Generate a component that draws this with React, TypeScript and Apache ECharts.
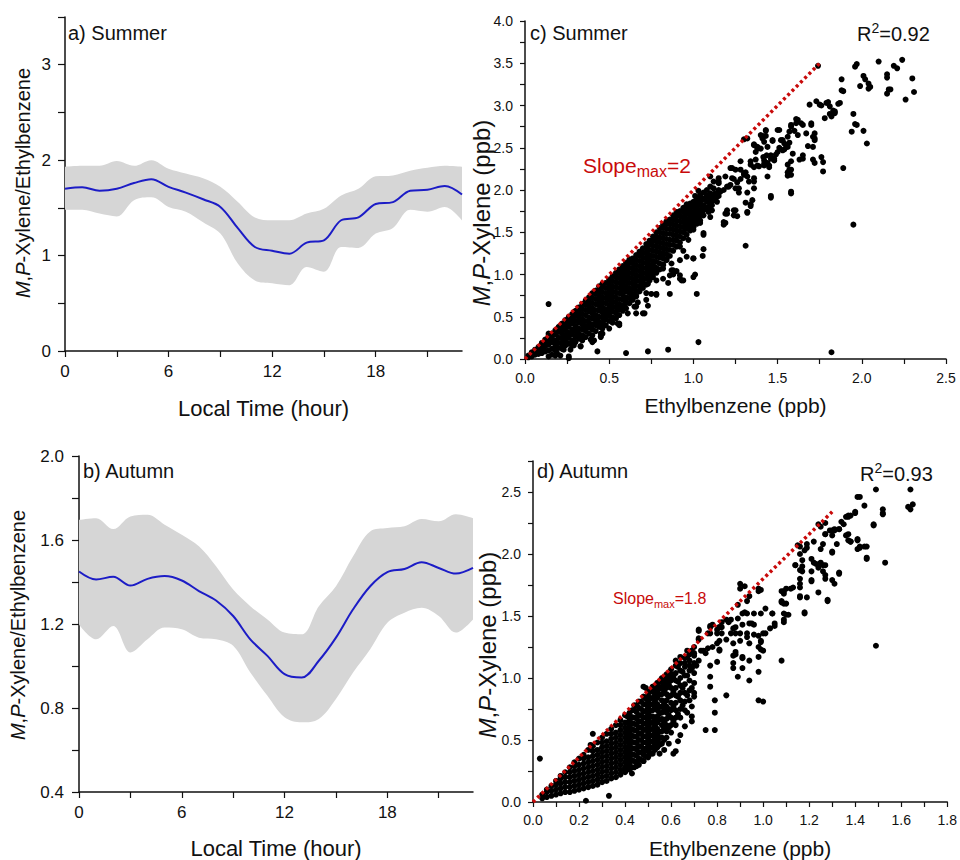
import React, { useEffect, useRef } from "react";
import * as echarts from "echarts";

const FONT = '"Liberation Sans", Arial, Helvetica, sans-serif';
const INK = "#111111";
const RED = "#c80a0a";
const BLUE = "#1c1cc6";
const BAND = "#d6d6d6";

// ---- Diurnal ratio profiles (hourly) ----
const hours = ["0", "1", "2", "3", "4", "5", "6", "7", "8", "9", "10", "11", "12", "13", "14", "15", "16", "17", "18", "19", "20", "21", "22", "23"];

const summerMean = [1.70, 1.715, 1.68, 1.70, 1.76, 1.80, 1.72, 1.66, 1.59, 1.51, 1.29, 1.09, 1.05, 1.02, 1.135, 1.16, 1.37, 1.40, 1.54, 1.56, 1.68, 1.69, 1.73, 1.64];
const summerUpper = [1.93, 1.94, 1.94, 1.99, 1.94, 2.00, 1.91, 1.86, 1.81, 1.72, 1.565, 1.40, 1.37, 1.37, 1.44, 1.49, 1.63, 1.70, 1.83, 1.84, 1.89, 1.92, 1.94, 1.93];
const summerLower = [1.48, 1.48, 1.44, 1.41, 1.58, 1.61, 1.51, 1.46, 1.35, 1.23, 0.92, 0.74, 0.71, 0.69, 0.88, 0.83, 1.09, 1.08, 1.23, 1.29, 1.48, 1.46, 1.51, 1.37];

const autumnMean = [1.45, 1.412, 1.425, 1.383, 1.415, 1.428, 1.407, 1.357, 1.312, 1.238, 1.127, 1.048, 0.961, 0.945, 1.025, 1.135, 1.27, 1.38, 1.447, 1.462, 1.494, 1.467, 1.44, 1.467];
const autumnUpper = [1.696, 1.704, 1.652, 1.712, 1.72, 1.673, 1.625, 1.57, 1.475, 1.364, 1.285, 1.222, 1.159, 1.151, 1.285, 1.38, 1.523, 1.641, 1.657, 1.665, 1.70, 1.689, 1.723, 1.704];
const autumnLower = [1.198, 1.127, 1.19, 1.064, 1.127, 1.183, 1.175, 1.135, 1.127, 1.096, 0.969, 0.858, 0.756, 0.732, 0.748, 0.843, 0.969, 1.08, 1.206, 1.254, 1.277, 1.238, 1.159, 1.222];

// ---- Reference slopes and fit statistics ----
const summerSlope = 2;
const summerSlopeEndX = 1.75;
const autumnSlope = 1.8;
const autumnSlopeEndX = 1.3;
const summerR2 = "0.92";
const autumnR2 = "0.93";

// ---- Summer scatter: Ethylbenzene (ppb) vs M,P-Xylene (ppb) ----
// Dense core: each entry is an ethylbenzene value with the xylene values observed there.
const summerCore: [number, number[]][] = [
  [0.02, [0.02, 0.04]],
  [0.04, [0.03, 0.06, 0.08]],
  [0.06, [0.05, 0.09, 0.11]],
  [0.08, [0.06, 0.10, 0.14]],
  [0.10, [0.07, 0.12, 0.17, 0.19]],
  [0.12, [0.09, 0.15, 0.20, 0.23]],
  [0.14, [0.10, 0.17, 0.23, 0.27, 0.30]],
  [0.16, [0.12, 0.20, 0.26, 0.30]],
  [0.18, [0.10, 0.16, 0.22, 0.29, 0.34]],
  [0.20, [0.13, 0.19, 0.25, 0.32, 0.38]],
  [0.22, [0.12, 0.18, 0.24, 0.30, 0.36, 0.42]],
  [0.24, [0.16, 0.22, 0.28, 0.34, 0.40, 0.46]],
  [0.26, [0.18, 0.25, 0.31, 0.38, 0.44, 0.50]],
  [0.28, [0.16, 0.22, 0.29, 0.35, 0.42, 0.48, 0.53]],
  [0.30, [0.20, 0.27, 0.33, 0.39, 0.45, 0.51, 0.57]],
  [0.32, [0.24, 0.30, 0.36, 0.43, 0.49, 0.55, 0.61]],
  [0.34, [0.22, 0.28, 0.35, 0.41, 0.47, 0.53, 0.59, 0.65]],
  [0.36, [0.26, 0.33, 0.39, 0.45, 0.52, 0.58, 0.64, 0.69]],
  [0.38, [0.30, 0.37, 0.43, 0.49, 0.56, 0.62, 0.68, 0.73]],
  [0.40, [0.28, 0.35, 0.41, 0.48, 0.54, 0.60, 0.66, 0.72, 0.78]],
  [0.42, [0.33, 0.40, 0.46, 0.52, 0.58, 0.65, 0.71, 0.77, 0.81]],
  [0.44, [0.38, 0.44, 0.50, 0.57, 0.63, 0.69, 0.75, 0.81, 0.86]],
  [0.46, [0.36, 0.42, 0.49, 0.55, 0.61, 0.67, 0.73, 0.79, 0.85, 0.89]],
  [0.48, [0.40, 0.47, 0.53, 0.59, 0.66, 0.72, 0.78, 0.84, 0.90]],
  [0.50, [0.45, 0.51, 0.57, 0.64, 0.70, 0.76, 0.82, 0.88, 0.94]],
  [0.52, [0.43, 0.49, 0.56, 0.62, 0.68, 0.74, 0.80, 0.86, 0.92, 0.98]],
  [0.54, [0.48, 0.54, 0.61, 0.67, 0.73, 0.79, 0.85, 0.91, 0.97, 1.02]],
  [0.56, [0.52, 0.59, 0.65, 0.71, 0.78, 0.84, 0.90, 0.96, 1.02, 1.06]],
  [0.58, [0.57, 0.63, 0.70, 0.76, 0.82, 0.88, 0.94, 1.00, 1.06, 1.10]],
  [0.60, [0.60, 0.67, 0.73, 0.80, 0.86, 0.92, 0.98, 1.04, 1.10, 1.14]],
  [0.62, [0.66, 0.72, 0.78, 0.84, 0.90, 0.96, 1.02, 1.08, 1.14, 1.18]],
  [0.64, [0.70, 0.77, 0.83, 0.89, 0.95, 1.01, 1.07, 1.13, 1.19]],
  [0.66, [0.75, 0.81, 0.87, 0.93, 0.99, 1.05, 1.11, 1.17, 1.23]],
  [0.68, [0.80, 0.86, 0.92, 0.98, 1.04, 1.10, 1.16, 1.22, 1.27]],
  [0.70, [0.84, 0.90, 0.96, 1.02, 1.08, 1.14, 1.20, 1.26, 1.31]],
  [0.72, [0.88, 0.95, 1.01, 1.07, 1.13, 1.19, 1.25, 1.31, 1.36]],
  [0.74, [0.93, 0.99, 1.05, 1.11, 1.17, 1.23, 1.29, 1.35, 1.40]],
  [0.76, [0.97, 1.04, 1.10, 1.16, 1.22, 1.28, 1.34, 1.40, 1.45]],
  [0.78, [1.02, 1.08, 1.15, 1.21, 1.27, 1.33, 1.39, 1.45, 1.50]],
  [0.80, [1.06, 1.13, 1.20, 1.26, 1.32, 1.38, 1.44, 1.50, 1.55]],
  [0.82, [1.12, 1.19, 1.25, 1.31, 1.37, 1.43, 1.49, 1.55, 1.59]],
  [0.84, [1.18, 1.24, 1.30, 1.36, 1.42, 1.48, 1.54, 1.60, 1.63]],
  [0.86, [1.22, 1.29, 1.35, 1.41, 1.48, 1.54, 1.60, 1.65]],
  [0.88, [1.28, 1.35, 1.41, 1.47, 1.53, 1.59, 1.65, 1.70]],
  [0.90, [1.33, 1.40, 1.46, 1.52, 1.58, 1.64, 1.70, 1.74]],
  [0.92, [1.38, 1.45, 1.51, 1.57, 1.63, 1.69, 1.75]],
  [0.94, [1.43, 1.50, 1.56, 1.62, 1.68, 1.74, 1.79]],
  [0.96, [1.47, 1.54, 1.60, 1.66, 1.72, 1.78, 1.83]],
  [0.98, [1.52, 1.58, 1.64, 1.70, 1.76, 1.82]],
  [1.00, [1.56, 1.62, 1.68, 1.74, 1.80, 1.86]],
  [1.02, [1.60, 1.66, 1.72, 1.78, 1.84, 1.90]],
  [1.04, [1.64, 1.70, 1.76, 1.82, 1.88, 1.94]],
  [1.06, [1.70, 1.76, 1.82, 1.90, 1.97]],
  [1.08, [1.78, 1.86, 1.92, 2.00]],
  [1.10, [1.84, 1.90, 1.96, 2.04]],
  [1.12, [1.88, 1.95, 2.02, 2.10]],
  [1.15, [1.93, 2.00, 2.08, 2.14]],
];

const summerSpread: [number, number][] = [
  [1.74, 3.47], [2.10, 3.52], [2.24, 3.54], [2.19, 3.47], [2.21, 3.44], [1.96, 3.46], [1.97, 3.49], [2.01, 3.35],
  [2.02, 3.31], [2.04, 3.26], [2.04, 3.20], [1.99, 3.23], [2.15, 3.37], [2.15, 3.33], [2.17, 3.19], [2.15, 3.14],
  [2.26, 3.07], [2.30, 3.32], [2.31, 3.16], [1.88, 3.31], [1.88, 3.18], [1.89, 3.17], [1.95, 2.90], [1.97, 2.77],
  [1.94, 2.69], [2.01, 2.70], [2.03, 2.55], [1.89, 2.26], [1.95, 1.59], [1.82, 0.08], [1.73, 3.05], [1.69, 3.01],
  [1.75, 3.01], [1.80, 3.04], [1.81, 2.99], [1.86, 3.02], [1.78, 2.85], [1.81, 2.90], [1.83, 2.94], [1.84, 2.93],
  [1.70, 2.77], [1.72, 2.67], [1.72, 2.61], [1.71, 2.51], [1.68, 2.52], [1.76, 2.39], [1.72, 2.32], [1.77, 2.22],
  [1.58, 1.98], [1.46, 1.93], [1.31, 1.34], [1.61, 2.84], [1.64, 2.79], [1.58, 2.77], [1.60, 2.70], [1.57, 2.69],
  [1.56, 2.63], [1.62, 2.65], [1.51, 2.71], [1.52, 2.59], [1.54, 2.55], [1.56, 2.51], [1.53, 2.47], [1.50, 2.45],
  [1.49, 2.42], [1.48, 2.37], [1.46, 2.41], [1.43, 2.70], [1.40, 2.65], [1.41, 2.61], [1.42, 2.57], [1.47, 2.59],
  [1.44, 2.51], [1.38, 2.49], [1.36, 2.53], [1.37, 2.45], [1.37, 2.36], [1.42, 2.35], [1.44, 2.32], [1.45, 2.27],
  [1.42, 2.29], [1.39, 2.28], [1.34, 2.34], [1.34, 2.30], [1.28, 2.34], [1.28, 2.24], [1.30, 2.20], [1.31, 2.21],
  [1.33, 2.10], [1.36, 2.10], [1.36, 2.02], [1.35, 1.88], [1.34, 1.81], [1.32, 1.74], [1.32, 2.61], [1.59, 2.43],
  [1.58, 2.34], [1.56, 2.30], [1.57, 2.24], [1.58, 2.18], [1.63, 2.36], [1.65, 2.41], [1.23, 2.26], [1.24, 2.13],
  [1.26, 2.09], [1.22, 2.06], [1.20, 2.04], [1.27, 2.02], [1.19, 2.16], [1.15, 2.10], [1.18, 2.00], [1.13, 1.96],
  [1.14, 1.86], [1.11, 1.82], [1.09, 1.74], [1.20, 1.72], [1.20, 1.76], [1.25, 1.76], [1.26, 1.69], [1.19, 1.61],
  [1.18, 1.59], [1.10, 1.68], [1.11, 1.91], [1.08, 1.94], [1.05, 1.88], [1.06, 1.47], [1.06, 1.30], [1.00, 1.19],
  [1.06, 1.49], [1.02, 1.89], [1.00, 1.84], [0.98, 1.84], [0.97, 1.78], [1.01, 1.72], [1.03, 1.66], [1.04, 1.61],
  [1.00, 1.53], [0.97, 1.41], [0.94, 1.28], [0.92, 1.33], [0.96, 1.21], [0.92, 0.99], [0.93, 0.93], [0.88, 1.05],
  [0.86, 0.99], [0.85, 0.90], [0.82, 1.07], [0.78, 0.93], [0.78, 0.77], [0.75, 0.77], [0.86, 0.77], [1.01, 1.00],
  [1.02, 0.77], [1.03, 0.20], [0.85, 0.11], [0.73, 0.09], [0.60, 0.07], [0.43, 0.09], [0.14, 0.65], [0.26, 0.01],
  [0.18, 0.04], [0.21, 0.04], [0.70, 0.54], [0.66, 0.62], [0.73, 0.63], [0.66, 0.74], [0.72, 0.70], [0.61, 0.54],
  [0.56, 0.42], [0.56, 0.64], [0.50, 0.60], [0.46, 0.30], [0.45, 0.26], [0.41, 0.22], [0.33, 0.15], [0.29, 0.22],
  [0.23, 0.11], [2.05, 3.22], [2.16, 3.19], [1.76, 3.00], [1.79, 3.03], [1.87, 3.03], [1.84, 2.91], [1.82, 2.87],
  [1.96, 2.78], [1.77, 2.33], [1.71, 2.36], [1.62, 2.83], [1.61, 2.79], [1.65, 2.77], [1.58, 2.75], [1.67, 2.67],
  [1.70, 2.79], [1.71, 2.63], [1.72, 2.59], [1.65, 2.37], [1.58, 2.24], [1.56, 2.17], [1.56, 2.21], [1.58, 1.96],
  [1.46, 1.91], [1.43, 2.71], [1.43, 2.64], [1.50, 2.71], [1.47, 2.58], [1.53, 2.59], [1.55, 2.53], [1.51, 2.50],
  [1.54, 2.48], [1.57, 2.56], [1.30, 2.60], [1.36, 2.54], [1.38, 2.51], [1.41, 2.64], [1.40, 2.49], [1.415, 2.39],
  [1.435, 2.41], [1.46, 2.37], [1.48, 2.35], [1.38, 2.29], [1.36, 2.27], [1.42, 2.31], [1.45, 2.29], [1.44, 2.16],
  [1.22, 2.26], [1.25, 2.24], [1.30, 2.18], [1.32, 2.16], [1.36, 2.14], [1.28, 2.13], [1.23, 2.14], [1.16, 1.98],
  [1.14, 1.92], [1.21, 2.04], [1.25, 2.02], [1.27, 1.97], [1.32, 1.97], [1.34, 1.83], [1.31, 1.85], [1.32, 1.73],
  [1.24, 1.76], [1.19, 1.72], [1.18, 1.62], [1.24, 1.70], [1.10, 2.16], [1.12, 1.88], [1.09, 1.80], [1.11, 1.76],
  [1.06, 1.80], [1.04, 1.72], [0.98, 1.82], [0.96, 1.76], [1.01, 1.93], [1.03, 1.99], [1.00, 1.70], [0.94, 1.68],
  [0.98, 1.62], [1.00, 0.97], [1.00, 1.19], [1.055, 1.22], [0.92, 1.17], [0.92, 0.95], [0.94, 0.93], [0.87, 1.05],
  [0.90, 1.04], [0.88, 1.00], [0.82, 0.95], [0.78, 0.76], [0.72, 0.78], [0.66, 0.54], [0.71, 0.54], [0.65, 0.62],
  [0.67, 0.67], [0.56, 0.40], [0.55, 0.42], [0.50, 0.36], [0.45, 0.30], [0.45, 0.27], [0.40, 0.20], [0.39, 0.23],
  [0.33, 0.15], [0.29, 0.16], [0.27, 0.11], [0.19, 0.07], [0.16, 0.05], [0.26, 0.03], [0.14, 0.03], [0.84, 1.17],
  [0.87, 1.13], [0.82, 1.11], [0.81, 1.21], [0.76, 1.11], [0.74, 1.09], [0.76, 1.01], [0.70, 0.93], [0.73, 0.89],
  [0.69, 0.85], [0.62, 0.82], [0.64, 0.74], [0.60, 0.66], [0.56, 0.62], [0.55, 0.58], [0.50, 0.54], [0.48, 0.50],
  [0.47, 0.46], [0.42, 0.42], [0.37, 0.38],
];

// ---- Autumn scatter ----
const autumnCore: [number, number[]][] = [
  [0.04, [0.03, 0.06]],
  [0.06, [0.04, 0.08, 0.10]],
  [0.08, [0.05, 0.09, 0.13]],
  [0.10, [0.06, 0.10, 0.14, 0.17]],
  [0.12, [0.07, 0.11, 0.15, 0.19, 0.21]],
  [0.14, [0.08, 0.12, 0.16, 0.20, 0.24]],
  [0.16, [0.08, 0.12, 0.16, 0.20, 0.24, 0.28]],
  [0.18, [0.09, 0.13, 0.17, 0.21, 0.25, 0.29, 0.32]],
  [0.20, [0.10, 0.14, 0.18, 0.22, 0.26, 0.30, 0.35]],
  [0.22, [0.11, 0.15, 0.19, 0.23, 0.27, 0.31, 0.35, 0.38]],
  [0.24, [0.12, 0.16, 0.20, 0.24, 0.28, 0.32, 0.36, 0.42]],
  [0.26, [0.13, 0.17, 0.21, 0.25, 0.29, 0.33, 0.37, 0.41, 0.45]],
  [0.28, [0.14, 0.18, 0.22, 0.26, 0.30, 0.34, 0.38, 0.42, 0.48]],
  [0.30, [0.16, 0.20, 0.24, 0.28, 0.32, 0.36, 0.40, 0.44, 0.48, 0.52]],
  [0.32, [0.17, 0.21, 0.25, 0.29, 0.33, 0.37, 0.41, 0.45, 0.49, 0.55]],
  [0.34, [0.19, 0.23, 0.27, 0.31, 0.35, 0.39, 0.43, 0.47, 0.51, 0.55, 0.59]],
  [0.36, [0.20, 0.24, 0.28, 0.32, 0.36, 0.40, 0.44, 0.48, 0.52, 0.56, 0.62]],
  [0.38, [0.22, 0.26, 0.30, 0.34, 0.38, 0.42, 0.46, 0.50, 0.54, 0.58, 0.62, 0.66]],
  [0.40, [0.24, 0.28, 0.32, 0.36, 0.40, 0.44, 0.48, 0.52, 0.56, 0.60, 0.64, 0.70]],
  [0.41, [0.29, 0.34, 0.39, 0.44, 0.49, 0.54, 0.59, 0.64, 0.69]],
  [0.42, [0.26, 0.31, 0.36, 0.41, 0.46, 0.51, 0.56, 0.61, 0.66, 0.72]],
  [0.43, [0.28, 0.335, 0.385, 0.435, 0.485, 0.535, 0.585, 0.635, 0.685, 0.74]],
  [0.44, [0.28, 0.33, 0.38, 0.43, 0.48, 0.53, 0.58, 0.63, 0.68, 0.74, 0.78]],
  [0.45, [0.32, 0.375, 0.425, 0.475, 0.525, 0.575, 0.625, 0.675, 0.725, 0.78]],
  [0.46, [0.30, 0.35, 0.40, 0.45, 0.50, 0.55, 0.60, 0.65, 0.70, 0.76, 0.81]],
  [0.47, [0.34, 0.40, 0.45, 0.50, 0.55, 0.60, 0.65, 0.70, 0.75, 0.81]],
  [0.48, [0.33, 0.38, 0.43, 0.48, 0.53, 0.58, 0.63, 0.68, 0.73, 0.79, 0.85]],
  [0.49, [0.37, 0.43, 0.48, 0.53, 0.585, 0.635, 0.685, 0.735, 0.785, 0.835]],
  [0.50, [0.36, 0.41, 0.46, 0.51, 0.56, 0.61, 0.66, 0.71, 0.76, 0.81, 0.86, 0.89]],
  [0.51, [0.39, 0.435, 0.485, 0.535, 0.585, 0.635, 0.685, 0.735, 0.785, 0.835, 0.89]],
  [0.52, [0.39, 0.44, 0.49, 0.54, 0.59, 0.64, 0.69, 0.74, 0.79, 0.84, 0.89, 0.93]],
  [0.53, [0.42, 0.465, 0.515, 0.565, 0.615, 0.665, 0.765, 0.815, 0.865, 0.92]],
  [0.54, [0.44, 0.49, 0.54, 0.59, 0.64, 0.69, 0.74, 0.79, 0.84, 0.89, 0.94, 0.96]],
  [0.55, [0.46, 0.515, 0.565, 0.665, 0.715, 0.765, 0.865, 0.915, 0.97]],
  [0.56, [0.47, 0.52, 0.57, 0.62, 0.67, 0.72, 0.77, 0.82, 0.87, 0.92, 0.97, 1.00]],
  [0.57, [0.50, 0.595, 0.645, 0.745, 0.795, 0.895, 0.945, 1.00]],
  [0.58, [0.52, 0.57, 0.62, 0.67, 0.72, 0.77, 0.82, 0.87, 0.92, 0.97, 1.03]],
  [0.59, [0.60, 0.70, 0.75, 0.85, 0.95, 1.01]],
  [0.60, [0.56, 0.62, 0.68, 0.74, 0.80, 0.86, 0.92, 0.98, 1.03, 1.07]],
  [0.61, [0.65, 0.77, 0.89, 1.01]],
  [0.62, [0.62, 0.68, 0.74, 0.80, 0.86, 0.92, 0.98, 1.04, 1.10]],
  [0.63, [0.71, 0.85, 0.97, 1.09]],
  [0.64, [0.68, 0.75, 0.82, 0.88, 0.94, 1.00, 1.06, 1.12]],
  [0.65, [0.78, 0.92, 1.05]],
  [0.66, [0.74, 0.81, 0.88, 0.95, 1.02, 1.09, 1.16]],
  [0.67, [0.86, 1.02, 1.17]],
  [0.68, [0.82, 0.90, 0.98, 1.06, 1.14, 1.19]],
  [0.69, [0.92, 1.08, 1.22]],
  [0.70, [0.88, 0.96, 1.04, 1.12, 1.20, 1.25]],
];

const autumnSpread: [number, number][] = [
  [1.49, 2.52], [1.64, 2.52], [1.41, 2.46], [1.44, 2.39], [1.48, 2.24], [1.52, 2.36], [1.52, 2.32], [1.63, 2.38],
  [1.64, 2.36], [1.65, 2.40], [1.40, 2.34], [1.37, 2.31], [1.36, 2.30], [1.34, 2.26], [1.33, 2.20], [1.31, 2.19],
  [1.29, 2.19], [1.27, 2.16], [1.26, 2.08], [1.30, 2.01], [1.36, 2.15], [1.37, 2.11], [1.38, 2.10], [1.41, 2.12],
  [1.42, 2.06], [1.45, 2.06], [1.45, 1.97], [1.41, 2.04], [1.53, 1.93], [1.49, 1.26], [1.31, 1.76], [1.33, 1.85],
  [1.28, 1.63], [1.24, 1.69], [1.24, 1.89], [1.23, 1.92], [1.26, 1.91], [1.27, 1.83], [1.21, 1.96], [1.22, 2.10],
  [1.25, 2.04], [1.21, 1.79], [1.18, 1.53], [1.16, 1.87], [1.16, 1.80], [1.16, 1.73], [1.16, 1.66], [1.14, 1.91],
  [1.16, 2.00], [1.17, 1.95], [1.16, 2.06], [1.15, 2.07], [1.19, 2.08], [1.18, 2.03], [1.13, 1.73], [1.09, 1.68],
  [1.08, 1.61], [1.08, 1.70], [1.11, 1.51], [1.09, 1.47], [1.08, 1.14], [1.04, 1.52], [1.05, 1.44], [1.03, 1.40],
  [1.00, 1.36], [0.99, 1.30], [1.00, 1.22], [0.98, 1.25], [0.98, 0.82], [1.00, 0.81], [0.99, 1.71], [0.98, 1.70],
  [0.90, 1.76], [0.92, 1.74], [0.90, 1.72], [0.96, 1.52], [0.93, 1.52], [0.95, 1.44], [0.94, 1.44], [0.93, 1.36],
  [0.96, 1.35], [0.98, 1.05], [0.94, 0.98], [0.89, 1.59], [0.91, 1.52], [0.89, 1.48], [0.91, 1.43], [0.87, 1.40],
  [0.88, 1.36], [0.90, 1.30], [0.87, 1.28], [0.88, 1.21], [0.87, 1.18], [0.91, 1.16], [0.87, 1.08], [0.89, 1.01],
  [0.91, 1.08], [0.84, 0.86], [0.84, 1.47], [0.82, 1.41], [0.80, 1.36], [0.81, 1.30], [0.78, 1.25], [0.81, 1.22],
  [0.77, 1.01], [0.77, 0.93], [0.79, 0.82], [0.79, 0.72], [0.79, 0.58], [0.75, 0.58], [0.75, 1.20], [0.74, 1.22],
  [0.72, 1.14], [0.71, 1.10], [0.69, 1.08], [0.70, 0.85], [0.69, 0.77], [0.69, 0.69], [0.69, 0.65], [0.67, 0.72],
  [0.66, 0.61], [0.64, 0.54], [0.62, 0.41], [0.59, 0.47], [0.63, 0.49], [0.61, 0.39], [0.57, 0.42], [0.55, 0.39],
  [0.51, 0.39], [0.48, 0.33], [0.48, 0.41], [0.45, 0.29], [0.43, 0.23], [0.40, 0.25], [0.33, 0.05], [0.23, 0.01],
  [0.03, 0.35], [0.26, 0.55], [0.25, 0.46], [0.48, 0.93], [0.49, 0.92], [0.56, 0.93], [0.58, 0.98], [0.62, 1.14],
  [0.64, 1.17], [0.66, 1.12], [0.68, 1.10], [0.67, 1.22], [0.72, 1.32], [0.72, 1.39], [0.76, 1.36], [0.77, 1.41],
  [0.78, 1.43], [0.80, 1.39], [0.81, 1.41], [0.82, 1.45], [0.98, 1.72], [0.94, 1.66], [0.93, 1.62], [1.01, 1.56],
  [0.99, 1.52], [0.92, 1.53], [1.04, 1.52], [1.09, 1.52], [1.10, 1.51], [1.09, 1.45], [1.09, 1.60], [1.08, 1.62],
  [1.09, 1.70], [1.10, 1.72], [1.12, 1.72], [1.16, 1.65], [1.18, 1.52], [1.16, 1.76], [1.17, 1.86], [1.14, 1.91],
  [1.17, 1.90], [1.19, 2.05], [1.22, 1.93], [1.21, 1.86], [1.25, 1.93], [1.27, 1.91], [1.26, 1.86], [1.27, 1.80],
  [1.30, 1.79], [1.33, 1.84], [1.30, 2.02], [1.32, 2.08], [1.30, 2.15], [1.27, 2.16], [1.24, 2.24], [1.25, 2.22],
  [1.27, 2.25], [1.30, 2.19], [1.31, 2.20], [1.33, 2.20], [1.35, 2.24], [1.37, 2.30], [1.38, 2.31], [1.40, 2.33],
  [1.42, 2.46], [1.37, 2.16], [1.38, 2.10], [1.41, 2.11], [1.42, 2.05], [1.44, 2.06], [1.45, 1.96], [1.48, 2.23],
  [1.52, 2.33], [1.28, 1.62], [1.21, 1.78], [1.19, 1.65], [1.10, 1.60], [0.72, 1.38], [0.72, 1.31], [0.77, 1.42],
  [0.77, 1.36], [0.81, 1.41], [0.82, 1.36], [0.85, 1.45], [0.86, 1.47], [0.88, 1.41], [0.90, 1.36], [0.86, 1.36],
  [0.84, 1.31], [0.80, 1.28], [0.81, 1.23], [0.76, 1.24], [0.73, 1.22], [0.70, 1.18], [0.93, 1.33], [0.94, 1.28],
  [0.98, 1.34], [0.99, 1.29], [0.96, 1.43], [1.01, 1.36], [1.05, 1.42], [0.88, 1.19], [0.87, 1.12], [0.91, 1.17],
  [0.94, 1.14], [0.98, 1.17], [0.99, 1.23], [0.80, 1.13], [0.77, 1.10],
];

// ---- Axis tick label sets ----
const hourLabelStep = 6;
const hourTickStep = 3;
const summerRatioLabelStep = 1;
const autumnRatioLabelStep = 0.4;
const summerScatterLabelStep = 0.5;
const autumnXLabelStep = 0.2;
const autumnYLabelStep = 0.5;

const unpack = (cols: [number, number[]][]) =>
  cols.flatMap(([x, ys]) => ys.map((y) => [x, y] as [number, number]));

const nearMultiple = (v: number, step: number) =>
  Math.abs(v / step - Math.round(v / step)) < 1e-6;

const lineStyleAxis = { show: true, onZero: false, lineStyle: { color: INK, width: 1.5 } };

type AxisCfg = {
  grid: number;
  min: number;
  max: number;
  interval: number;
  labelStep: number;
  decimals: number;
  fontSize: number;
  margin: number;
  tickLen: number;
  name?: string;
  nameGap?: number;
};

function valueAxis(c: AxisCfg) {
  return {
    type: "value",
    gridIndex: c.grid,
    min: c.min,
    max: c.max,
    interval: c.interval,
    name: c.name,
    nameLocation: "middle",
    nameGap: c.nameGap,
    nameTextStyle: { fontSize: 21, fontFamily: FONT, color: INK },
    axisLine: lineStyleAxis,
    axisTick: { show: true, inside: false, length: c.tickLen, lineStyle: { color: INK, width: 1.2 } },
    minorTick: { show: false },
    splitLine: { show: false },
    axisLabel: {
      show: true,
      margin: c.margin,
      fontSize: c.fontSize,
      fontFamily: FONT,
      color: INK,
      formatter: (v: number) => (nearMultiple(v, c.labelStep) ? v.toFixed(c.decimals) : ""),
    },
  };
}

// Hour-of-day axis (categories 0..23, boundaries on the first and last hour)
function hourAxis(grid: number, nameGap: number) {
  return {
    type: "category",
    gridIndex: grid,
    data: hours,
    boundaryGap: false,
    name: "Local Time (hour)",
    nameLocation: "middle",
    nameGap,
    nameTextStyle: { fontSize: 22, fontFamily: FONT, color: INK },
    axisLine: lineStyleAxis,
    axisTick: { show: true, inside: false, length: 6, interval: hourTickStep - 1, lineStyle: { color: INK, width: 1.2 } },
    splitLine: { show: false },
    axisLabel: { show: true, interval: hourLabelStep - 1, margin: 12, fontSize: 17, fontFamily: FONT, color: INK },
  };
}

function bandSeries(axisIndex: number, stackId: string, upper: number[], lower: number[], mean: number[]) {
  const common = {
    type: "line",
    xAxisIndex: axisIndex,
    yAxisIndex: axisIndex,
    symbol: "none",
    smooth: 0.35,
    silent: true,
  };
  return [
    {
      ...common,
      stack: stackId,
      data: lower,
      lineStyle: { width: 0, opacity: 0 },
    },
    {
      ...common,
      stack: stackId,
      data: upper.map((u, i) => u - lower[i]),
      lineStyle: { width: 0, opacity: 0 },
      areaStyle: { color: BAND, opacity: 1 },
    },
    {
      ...common,
      data: mean,
      lineStyle: { color: BLUE, width: 2 },
      z: 5,
    },
  ];
}

function slopeSeries(axisIndex: number, slope: number, endX: number) {
  return {
    type: "line",
    xAxisIndex: axisIndex,
    yAxisIndex: axisIndex,
    symbol: "none",
    silent: true,
    z: 6,
    data: [
      [0, 0],
      [endX, slope * endX],
    ],
    lineStyle: { color: RED, width: 3.5, type: [3, 3] },
  };
}

function scatterSeries(axisIndex: number, data: [number, number][]) {
  return {
    type: "scatter",
    xAxisIndex: axisIndex,
    yAxisIndex: axisIndex,
    symbol: "circle",
    symbolSize: 6,
    silent: true,
    itemStyle: { color: "#000000", opacity: 1 },
    data,
    z: 3,
  };
}

function plainText(x: number, y: number, text: string, fontSize = 20) {
  return {
    type: "text",
    x,
    y,
    z: 50,
    silent: true,
    style: { text, fontSize, fontFamily: FONT, fill: INK, align: "left", verticalAlign: "middle" },
  };
}

function r2Text(x: number, y: number, value: string) {
  return {
    type: "text",
    x,
    y,
    z: 50,
    silent: true,
    style: {
      text: `{b|R}{s|2}{b|=${value}}`,
      align: "left",
      verticalAlign: "middle",
      fontFamily: FONT,
      fill: INK,
      rich: {
        b: { fontSize: 20, fontFamily: FONT, fill: INK, verticalAlign: "top", padding: [3, 0, 0, 0] },
        s: { fontSize: 14, fontFamily: FONT, fill: INK, verticalAlign: "top" },
      },
    },
  };
}

function slopeText(x: number, y: number, slope: number, size: number, subSize: number, drop: number) {
  return {
    type: "text",
    x,
    y,
    z: 50,
    silent: true,
    style: {
      text: `{b|Slope}{s|max}{b|=${slope}}`,
      align: "left",
      verticalAlign: "middle",
      fontFamily: FONT,
      fill: RED,
      rich: {
        b: { fontSize: size, fontFamily: FONT, fill: RED, verticalAlign: "top" },
        s: { fontSize: subSize, fontFamily: FONT, fill: RED, verticalAlign: "top", padding: [drop, 0, 0, 0] },
      },
    },
  };
}

function yName(x: number, y: number, tail: string, fontSize = 20) {
  return {
    type: "text",
    x,
    y,
    z: 50,
    rotation: Math.PI / 2,
    silent: true,
    style: {
      text: `{i|M},{i|P}${tail}`,
      align: "center",
      verticalAlign: "middle",
      fontSize,
      fontFamily: FONT,
      fill: INK,
      rich: {
        i: { fontSize, fontFamily: FONT, fontStyle: "italic", fill: INK },
      },
    },
  };
}

function buildOption() {
  return {
    animation: false,
    backgroundColor: "#ffffff",
    grid: [
      { left: 65, top: 17, width: 397, height: 334 },
      { left: 79, top: 456, width: 394, height: 337 },
      { left: 525, top: 21, width: 421, height: 338 },
      { left: 533, top: 461, width: 415, height: 341 },
    ],
    xAxis: [
      hourAxis(0, 46),
      hourAxis(1, 45),
      valueAxis({ grid: 2, min: 0, max: 2.5, interval: 0.25, labelStep: summerScatterLabelStep, decimals: 1, fontSize: 14, margin: 12, tickLen: 5, name: "Ethylbenzene (ppb)", nameGap: 36 }),
      valueAxis({ grid: 3, min: 0, max: 1.8, interval: 0.1, labelStep: autumnXLabelStep, decimals: 1, fontSize: 14, margin: 11, tickLen: 5, name: "Ethylbenzene (ppb)", nameGap: 36 }),
    ],
    yAxis: [
      valueAxis({ grid: 0, min: 0, max: 3.5, interval: 0.5, labelStep: summerRatioLabelStep, decimals: 0, fontSize: 17, margin: 14, tickLen: 7 }),
      valueAxis({ grid: 1, min: 0.4, max: 2.0, interval: 0.2, labelStep: autumnRatioLabelStep, decimals: 1, fontSize: 17, margin: 15, tickLen: 7 }),
      valueAxis({ grid: 2, min: 0, max: 4.0, interval: 0.25, labelStep: summerScatterLabelStep, decimals: 1, fontSize: 14, margin: 12, tickLen: 5 }),
      valueAxis({ grid: 3, min: 0, max: 2.75, interval: 0.25, labelStep: autumnYLabelStep, decimals: 1, fontSize: 14, margin: 12, tickLen: 5 }),
    ],
    series: [
      ...bandSeries(0, "summerBand", summerUpper, summerLower, summerMean),
      ...bandSeries(1, "autumnBand", autumnUpper, autumnLower, autumnMean),
      scatterSeries(2, [...unpack(summerCore), ...summerSpread]),
      slopeSeries(2, summerSlope, summerSlopeEndX),
      scatterSeries(3, [...unpack(autumnCore), ...autumnSpread]),
      slopeSeries(3, autumnSlope, autumnSlopeEndX),
    ],
    graphic: [
      plainText(68, 33, "a) Summer"),
      plainText(83, 471, "b) Autumn"),
      plainText(530, 33, "c) Summer"),
      plainText(537, 471, "d) Autumn"),
      r2Text(857, 32, summerR2),
      r2Text(860, 472, autumnR2),
      slopeText(583, 167, summerSlope, 21, 16, 9),
      slopeText(613, 600, autumnSlope, 16, 11, 8),
      yName(23, 183, "-Xylene/Ethylbenzene"),
      yName(18, 625, "-Xylene/Ethylbenzene"),
      yName(481, 213, "-Xylene (ppb)", 24),
      yName(487, 645, "-Xylene (ppb)", 24),
    ],
  };
}

export default function App() {
  const ref = useRef<HTMLDivElement>(null);
  useEffect(() => {
    if (!ref.current) return;
    const chart = echarts.init(ref.current, undefined, { renderer: "svg" });
    chart.setOption(buildOption() as any);
    return () => chart.dispose();
  }, []);
  return (
    <div
      ref={ref}
      style={{ position: "absolute", left: 0, top: 0, width: 960, height: 860, background: "#ffffff" }}
    />
  );
}
